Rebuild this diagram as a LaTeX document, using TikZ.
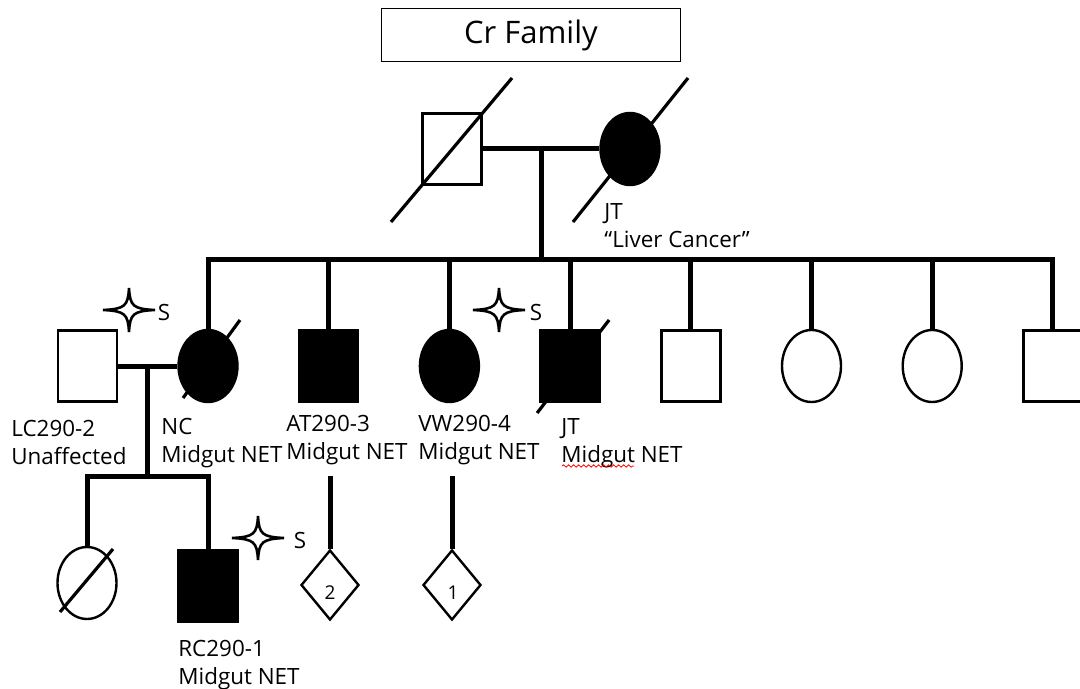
\documentclass[tikz,border=0pt]{standalone}
\usepackage{fontspec}
\setmainfont{Open Sans}
\usepackage{tikz}
\usetikzlibrary{positioning, calc, shapes.geometric, decorations.pathmorphing}
\tikzset{
 male/.style = {
    rectangle, draw, line width=1.2pt, fill=white,
    minimum width=29.5pt,
    minimum height=35.5pt, inner sep=0pt},
 female/.style = {
    ellipse, draw, line width=1.2pt, fill=white,
    minimum width=29.5pt,
    minimum height=36pt, inner sep=0pt},
 affected/.style = {
    fill=black},
 unknown/.style = {
    diamond, draw, line width=1.2pt, fill=white,
    minimum width=29pt,
    minimum height=35pt, inner sep=0pt},
 line/.style = {
    draw, line width=2.5pt},
 slash/.style = {
    draw, line width=1.6pt},
 id label/.style = {
    anchor=north west, align=left, inner sep=0pt,
    font=\fontsize{11.2}{14}\selectfont},
 sample/.style = {
    inner sep=0pt, font=\fontsize{11.2}{14}\selectfont},
 count/.style = {
    inner sep=0pt, font=\fontsize{9.5}{11}\selectfont},
 sequenced/.pic = {
    \draw[line width=1.3pt, fill=white] (-26,0) .. controls (-4,-1) and (-1,-4) .. (0,-22)
        .. controls (1,-4) and (4,-1) .. (26,0) .. controls (4,1) and (1,4) .. (0,22)
        .. controls (-1,4) and (-4,1) .. cycle;},
}
\begin{document}
\begin{tikzpicture}[x=0.5pt, y=-0.5pt, node distance=60.35pt]
    \useasboundingbox (0,0) rectangle (1080,689);
    \clip (0,0) rectangle (1080,689);

    % Title
    \node[draw, line width=0.8pt, minimum width=149.5pt, minimum height=26.5pt,
          font=\fontsize{15.5}{18}\selectfont] (title) at (531,35) {Cr Family};

    % Generation I
    \node [male]                    (gf)    at (452,149) {};
    \node [female, affected]        (gm)    at (630,149) {};
    \draw[slash] ($(gf)+(-61,73)$) -- ($(gf)+(60,-71)$);
    \draw[slash] ($(gm)+(-57,73)$) -- ($(gm)+(58,-71)$);
    \node [id label]                (gmtxt) at (604,203) {JT\\“Liver Cancer”};

    % Generation II
    \node [female, affected]        (nc)    at (208,366) {};
    \node [male, left of=nc]        (lc)    {};
    \node [male, affected, right of=nc]     (at)    {};
    \node [female, affected, right of=at]   (vw)    {};
    \node [male, affected, right of=vw]     (jt)    {};
    \node [male, right of=jt]       (sib5)  {};
    \node [female, right of=sib5]   (sib6)  {};
    \node [female, right of=sib6]   (sib7)  {};
    \node [male, right of=sib7]     (sib8)  {};
    \draw[slash] ($(nc)+(-25,32)$) -- ($(nc)+(32,-46)$);
    \draw[slash] ($(jt)+(-33,47)$) -- ($(jt)+(39,-46)$);

    \coordinate (gmid) at ($(gf.east)!0.5!(gm.west)$);
    \coordinate (sib) at ($(gmid)+(0,111)$);
    \draw[line] (gf.east) -- (gm.west);
    \draw[line] (gmid) -- (sib);
    \draw[line] (nc.north) -- (sib -| nc) -- (sib -| sib8) -- (sib8.north);
    \foreach \n in {at, vw, jt, sib5, sib6, sib7}
        \draw[line] (sib -| \n) -- (\n.north);

    % Generation III
    \node [female]                  (rcsis) at (87,583) {};
    \node [male, affected]          (rc)    at (208,586) {};
    \node [unknown]                 (atkids) at (330,585) {};
    \node [unknown]                 (vwkids) at (452,585) {};
    \node [count]                   (atnum) at ($(atkids)+(0,8)$) {2};
    \node [count]                   (vwnum) at ($(vwkids)+(1,8)$) {1};
    \draw[slash] ($(rcsis)+(-27,29)$) -- ($(rcsis)+(26,-34)$);

    \coordinate (lcmid) at ($(lc.east)!0.5!(nc.west)$);
    \coordinate (kids) at ($(lcmid)+(0,110)$);
    \draw[line] (lc.east) -- (nc.west);
    \draw[line] (lcmid) -- (kids);
    \draw[line] (rcsis.north) -- (kids -| rcsis) -- (kids -| rc) -- (rc.north);
    \draw[line] (kids -| atkids) -- (atkids.north);
    \draw[line] (kids -| vwkids) -- (vwkids.north);

    % Labels
    \node [id label]    (lctxt) at (11,420)  {LC290-2\\Unaffected};
    \node [id label]    (nctxt) at (161,418) {NC\\Midgut NET};
    \node [id label]    (attxt) at (286,415) {AT290-3\\Midgut NET};
    \node [id label]    (vwtxt) at (418,415) {VW290-4\\Midgut NET};
    \node [id label]    (jttxt) at (561,418) {JT\\Midgut NET};
    \node [id label]    (rctxt) at (178,640) {RC290-1\\Midgut NET};
    \draw[red, line width=0.4pt, decorate,
          decoration={snake, amplitude=0.6pt, segment length=2.5pt}] (562,466) -- (634,466);

    % Sequenced
    \pic (star1) at (129,310) {sequenced};
    \node [sample]      (s1) at (164,312) {S};
    \pic (star2) at (499,310) {sequenced};
    \node [sample]      (s2) at (536,312) {S};
    \pic (star3) at (258,538) {sequenced};
    \node [sample]      (s3) at (300,540) {S};
\end{tikzpicture}
\end{document}
